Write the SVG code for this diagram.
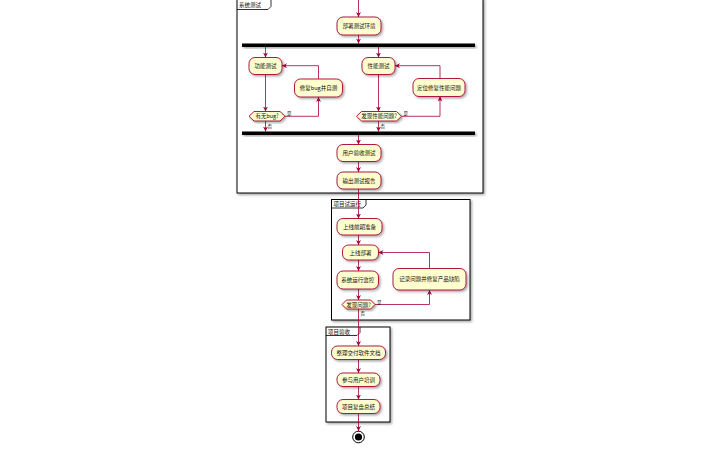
<svg xmlns="http://www.w3.org/2000/svg" width="720" height="450" viewBox="0 0 720 450">
<defs>
<marker id="ah" viewBox="0 0 10 10" refX="10" refY="5" markerUnits="userSpaceOnUse" markerWidth="5" markerHeight="5" orient="auto">
<path d="M0,0 L10,5 L0,10 L3,5 z" fill="#A80036"/>
</marker>
<filter id="sh" x="-20%" y="-20%" width="150%" height="150%">
<feDropShadow dx="1.5" dy="1.5" stdDeviation="0.8" flood-color="#000" flood-opacity="0.35"/>
</filter>
</defs>
<style>
.fs{fill:#fff;stroke:#000;stroke-width:1;filter:url(#sh)}
.tab{fill:none;stroke:#000;stroke-width:0.8}
.act{fill:#FEFECE;stroke:#A80036;stroke-width:0.9;filter:url(#sh)}
.bar{fill:#000;filter:url(#sh)}
.arr{fill:none;stroke:#A80036;stroke-width:0.8;marker-end:url(#ah)}
text{font-family:"Noto Sans CJK SC","Noto Sans",sans-serif;font-size:5.5px;fill:#111}
.c{text-anchor:middle}
.sm{font-size:4.5px}
.pl{font-size:5.5px}
</style>
<rect width="720" height="450" fill="#fff"/>

<!-- partitions -->
<g id="p1">
<rect class="fs" x="237" y="-2" width="246" height="195"/>
<path class="tab" d="M237,9.5 L268,9.5 L271,6.5 L271,-2"/>
<text class="pl" x="239" y="6.5">系统测试</text>
</g>
<g id="p2">
<rect class="fs" x="331.5" y="199.5" width="138.5" height="120.5"/>
<path class="tab" d="M331.5,208 L363,208 L366,205 L366,199.5"/>
<text class="pl" x="333.5" y="206">项目试运行</text>
</g>
<g id="p3">
<rect class="fs" x="326" y="327" width="64" height="95"/>
<path class="tab" d="M326,335.5 L357,335.5 L360,332.5 L360,327"/>
<text class="pl" x="328" y="333.5">项目验收</text>
</g>

<!-- connectors -->
<g id="connectors">
<line class="arr" x1="358.5" y1="0" x2="358.5" y2="17"/>
<line class="arr" x1="358.5" y1="35" x2="358.5" y2="43.5"/>
<line class="arr" x1="265.5" y1="47" x2="265.5" y2="57.5"/>
<line class="arr" x1="265.5" y1="74.5" x2="265.5" y2="111.5"/>
<polyline class="arr" points="285,116.3 318.5,116.3 318.5,97"/>
<polyline class="arr" points="318.5,79 318.5,65.7 282,65.7"/>
<line class="arr" x1="265.5" y1="121" x2="265.5" y2="131.5"/>
<line class="arr" x1="378.5" y1="47" x2="378.5" y2="57.5"/>
<line class="arr" x1="378.5" y1="74.5" x2="378.5" y2="111.5"/>
<polyline class="arr" points="401.5,116.3 440,116.3 440,96.5"/>
<polyline class="arr" points="440,78.5 440,65.7 395,65.7"/>
<line class="arr" x1="378.5" y1="121" x2="378.5" y2="131.5"/>
<line class="arr" x1="358.5" y1="135" x2="358.5" y2="144.5"/>
<line class="arr" x1="358.5" y1="161.5" x2="358.5" y2="172"/>
<line class="arr" x1="358.5" y1="189" x2="358.5" y2="218.5"/>
<line class="arr" x1="358.5" y1="235" x2="358.5" y2="245"/>
<line class="arr" x1="358.5" y1="260" x2="358.5" y2="271"/>
<line class="arr" x1="358.5" y1="289" x2="358.5" y2="300"/>
<polyline class="arr" points="375,304.5 429.5,304.5 429.5,290"/>
<polyline class="arr" points="429.5,268.5 429.5,252.5 378.5,252.5"/>
<line class="arr" x1="358.5" y1="309" x2="358.5" y2="346"/>
<line class="arr" x1="358.5" y1="359.5" x2="358.5" y2="373"/>
<line class="arr" x1="358.5" y1="386.5" x2="358.5" y2="399.5"/>
<line class="arr" x1="358.5" y1="413.5" x2="358.5" y2="431"/>
<text class="sm" x="287" y="115">是</text>
<text class="sm" x="267.5" y="127.5">否</text>
<text class="sm" x="403.5" y="115">是</text>
<text class="sm" x="380.5" y="127.5">否</text>
<text class="sm" x="377" y="303.5">是</text>
<text class="sm" x="360.5" y="314.5">否</text>
</g>

<!-- nodes -->
<g id="n_deploy"><rect class="act" x="337" y="17" width="44" height="18" rx="6"/><text class="c" x="359" y="28">部署测试环境</text></g>
<g id="fork1"><rect class="bar" x="242" y="43.5" width="233" height="3.5"/></g>
<g id="n_func"><rect class="act" x="249" y="57.5" width="33" height="17" rx="6"/><text class="c" x="265.5" y="68">功能测试</text></g>
<g id="d_bug"><polygon class="act" points="249,116.3 254,111.5 280,111.5 285,116.3 280,121 254,121"/><text class="c" x="267" y="118.3">有无bug?</text></g>
<g id="n_fix"><rect class="act" x="294.5" y="79" width="48" height="18" rx="6"/><text class="c" x="318.5" y="90">修复bug并自测</text></g>
<g id="n_perf"><rect class="act" x="362" y="57.5" width="33" height="17" rx="6"/><text class="c" x="378.5" y="68">性能测试</text></g>
<g id="d_perf"><polygon class="act" points="356.5,116.3 361.5,111.5 396.5,111.5 401.5,116.3 396.5,121 361.5,121"/><text class="c" x="379" y="118.3">发现性能问题?</text></g>
<g id="n_perffix"><rect class="act" x="413" y="78.5" width="52" height="18" rx="6"/><text class="c" x="439" y="89.5">定位修复性能问题</text></g>
<g id="join1"><rect class="bar" x="242" y="131.5" width="233" height="3.5"/></g>
<g id="n_uat"><rect class="act" x="337" y="144.5" width="44" height="17" rx="6"/><text class="c" x="359" y="155">用户验收测试</text></g>
<g id="n_report"><rect class="act" x="337" y="172" width="44" height="17" rx="6"/><text class="c" x="359" y="182.5">输出测试报告</text></g>
<g id="n_prep"><rect class="act" x="337" y="218.5" width="45" height="16.5" rx="6"/><text class="c" x="359.5" y="228.8">上线前期准备</text></g>
<g id="n_golive"><rect class="act" x="342.5" y="245" width="36" height="15" rx="6"/><text class="c" x="360.5" y="254.5">上线部署</text></g>
<g id="n_monitor"><rect class="act" x="337" y="271" width="41.5" height="18" rx="6"/><text class="c" x="357.8" y="282">系统运行监控</text></g>
<g id="d_issue"><polygon class="act" points="342,304.5 346.5,300 370.5,300 375,304.5 370.5,309 346.5,309"/><text class="c" x="358.5" y="306.5">发现问题?</text></g>
<g id="n_record"><rect class="act" x="393" y="268.5" width="73" height="21.5" rx="6"/><text class="c" x="429.5" y="281">记录问题并修复产品缺陷</text></g>
<g id="n_docs"><rect class="act" x="331.5" y="346" width="54" height="13.5" rx="6"/><text class="c" x="358.5" y="354.8">整理交付软件文档</text></g>
<g id="n_train"><rect class="act" x="337" y="373" width="43" height="13.5" rx="6"/><text class="c" x="358.5" y="381.8">参与用户培训</text></g>
<g id="n_summary"><rect class="act" x="337" y="399.5" width="43" height="14" rx="6"/><text class="c" x="358.5" y="408.5">项目复盘总结</text></g>
<g id="end"><circle cx="358.5" cy="437" r="5.8" fill="none" stroke="#000" stroke-width="1"/><circle cx="358.5" cy="437" r="3.6" fill="#000"/></g>
</svg>
